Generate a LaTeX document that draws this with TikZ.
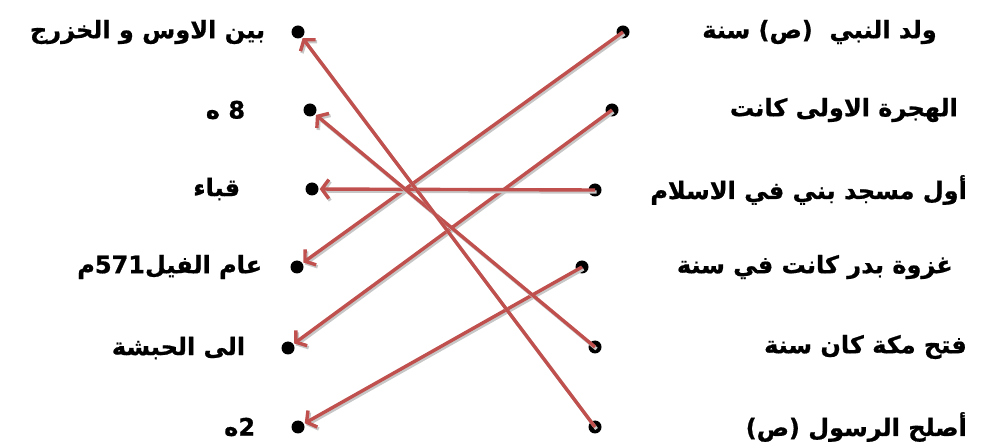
\documentclass[tikz,border=0pt]{standalone}
\usepackage{fontspec}
\newfontfamily\arabicfont[Script=Arabic, BoldFeatures={FakeBold=0.8}]{DejaVu Sans}
\TeXXeTstate=1
\usepackage{xcolor}
\usetikzlibrary{arrows.meta,positioning}
\definecolor{linkred}{HTML}{C0504D}

\begin{document}
\begin{tikzpicture}[
  x=1pt, y=-1pt,
  every node/.style={font=\arabicfont\bfseries\fontsize{24}{28}\selectfont},
  dot/.style={circle, fill=black, inner sep=0pt, minimum size=13pt},
  lbl/.style={inner sep=0pt},
  link/.style={draw=linkred, line width=3.4pt,
    -{Straight Barb[length=7pt,width=19pt]}, shorten >=1pt},
  linkshadow/.style={link, draw=black!22,
    transform canvas={shift={(1.5pt,-2pt)}}}
]
\useasboundingbox (0,0) rectangle (986,446);

% left column (answers)
\node[dot] (a1) at (298,32) {};
\node[dot] (a2) at (310,110) {};
\node[dot] (a3) at (312,189) {};
\node[dot] (a4) at (297,267) {};
\node[dot] (a5) at (288,348) {};
\node[dot] (a6) at (298,427) {};

\node[lbl, left=26pt of a1] (ta1) {\beginR بين الاوس و الخزرج\endR};
\node[lbl, left=58pt of a2] (ta2) {\beginR 8 ه\endR};
\node[lbl, left=65pt of a3] (ta3) {\beginR قباء\endR};
\node[lbl, left=28pt of a4] (ta4) {\beginR عام الفيل571م\endR};
\node[lbl, left=36pt of a5] (ta5) {\beginR الى الحبشة\endR};
\node[lbl, left=36pt of a6] (ta6) {\beginR 2ه\endR};

% right column (questions)
\node[dot] (q1) at (623,32) {};
\node[dot] (q2) at (612,110) {};
\node[dot] (q3) at (595,190) {};
\node[dot] (q4) at (582,267) {};
\node[dot] (q5) at (595,347) {};
\node[dot] (q6) at (595,427) {};

\node[lbl, anchor=east] (tq1) at (937,32) {\beginR ولد النبي\ \ (ص) سنة\endR};
\node[lbl, anchor=east] (tq2) at (958,110) {\beginR الهجرة الاولى كانت\endR};
\node[lbl, anchor=east] (tq3) at (967,190) {\beginR أول مسجد بني في الاسلام\endR};
\node[lbl, anchor=east] (tq4) at (953,267) {\beginR غزوة بدر كانت في سنة\endR};
\node[lbl, anchor=east] (tq5) at (967,347) {\beginR فتح مكة كان سنة\endR};
\node[lbl, anchor=east] (tq6) at (967,427) {\beginR أصلح الرسول (ص)\endR};

% links, each with a soft shadow
\foreach \q/\a in {q1/a4, q2/a5, q3/a3, q4/a6, q5/a2, q6/a1} {
  \draw[linkshadow] (\q.center) -- (\a);
  \draw[link] (\q.center) -- (\a);
}
\end{tikzpicture}
\end{document}
